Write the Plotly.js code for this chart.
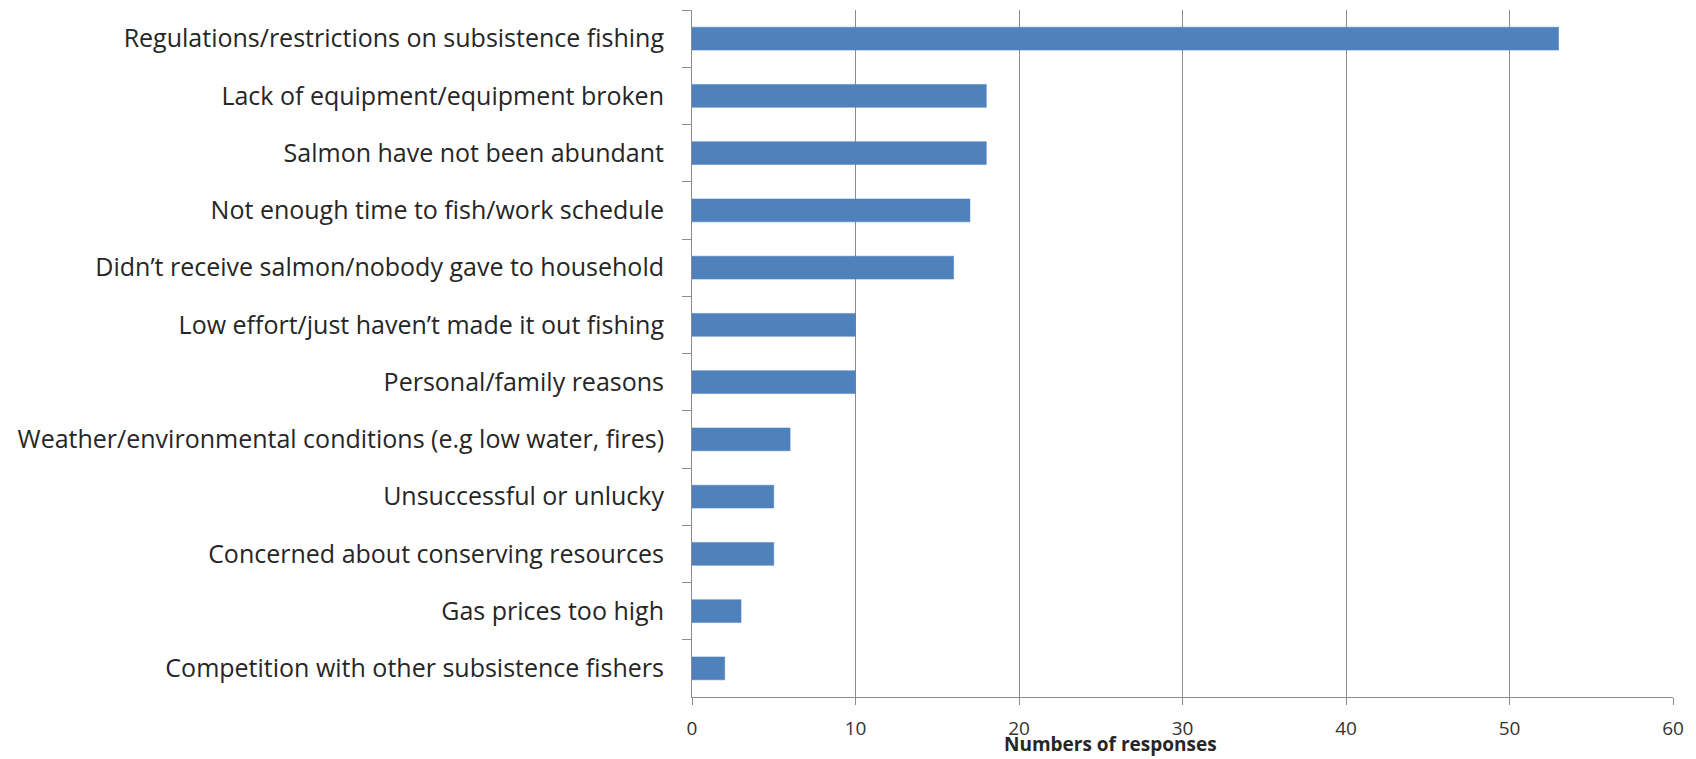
<!DOCTYPE html>
<html>
<head>
<meta charset="utf-8">
<script src="https://cdn.plot.ly/plotly-3.0.1.min.js"></script>
<style>html,body{margin:0;padding:0;background:#fff;}#chart{width:1696px;height:759px;}</style>
</head>
<body>
<div id="chart"></div>
<script>
const categories = [
  "Regulations/restrictions on subsistence fishing",
  "Lack of equipment/equipment broken",
  "Salmon have not been abundant",
  "Not enough time to fish/work schedule",
  "Didn\u2019t receive salmon/nobody gave to household",
  "Low effort/just haven\u2019t made it out fishing",
  "Personal/family reasons",
  "Weather/environmental conditions (e.g low water, fires)",
  "Unsuccessful or unlucky",
  "Concerned about conserving resources",
  "Gas prices too high",
  "Competition with other subsistence fishers"
];
const responses = [53, 18, 18, 17, 16, 10, 10, 6, 5, 5, 3, 2];
const xTicks = [0, 10, 20, 30, 40, 50, 60];
const xTitle = "Numbers of responses";

const trace = {
  type: 'bar',
  orientation: 'h',
  y: categories,
  x: responses,
  width: 0.4,
  marker: {color: '#4F81BD', line: {color: '#4A7EBB', width: 0.5}},
  hoverinfo: 'x+y'
};

const layout = {
  width: 1696, height: 759,
  margin: {l: 692, r: 23, t: 10, b: 62},
  paper_bgcolor: '#fff', plot_bgcolor: '#fff',
  showlegend: false,
  font: {family: '"Open Sans", "Liberation Sans", sans-serif', color: '#262626'},
  xaxis: {
    range: [0, 60],
    tickvals: xTicks,
    ticktext: xTicks.map(String),
    showgrid: true, gridcolor: '#8c8c8c', gridwidth: 1,
    showline: true, linecolor: '#8c8c8c', linewidth: 1,
    ticks: 'outside', ticklen: 7, tickcolor: '#8c8c8c',
    ticklabelstandoff: 7,
    tickfont: {size: 19, color: '#333'},
    zeroline: false,
    fixedrange: true
  },
  yaxis: {
    type: 'category',
    autorange: 'reversed',
    showline: true, linecolor: '#8c8c8c', linewidth: 1,
    ticks: 'outside', ticklen: 9, tickcolor: '#8c8c8c',
    tickson: 'boundaries',
    ticklabelstandoff: 22,
    tickfont: {size: 25, color: '#262626'},
    showgrid: false, zeroline: false,
    fixedrange: true
  },
  annotations: [{
    text: '<b>' + xTitle + '</b>',
    xref: 'paper', yref: 'paper',
    x: (1110 - 692) / (1673 - 692), y: -0.069,
    xanchor: 'center', yanchor: 'middle',
    showarrow: false,
    font: {size: 19, color: '#262626'}
  }]
};

Plotly.newPlot('chart', [trace], layout, {displayModeBar: false, staticPlot: true});
</script>
</body>
</html>
